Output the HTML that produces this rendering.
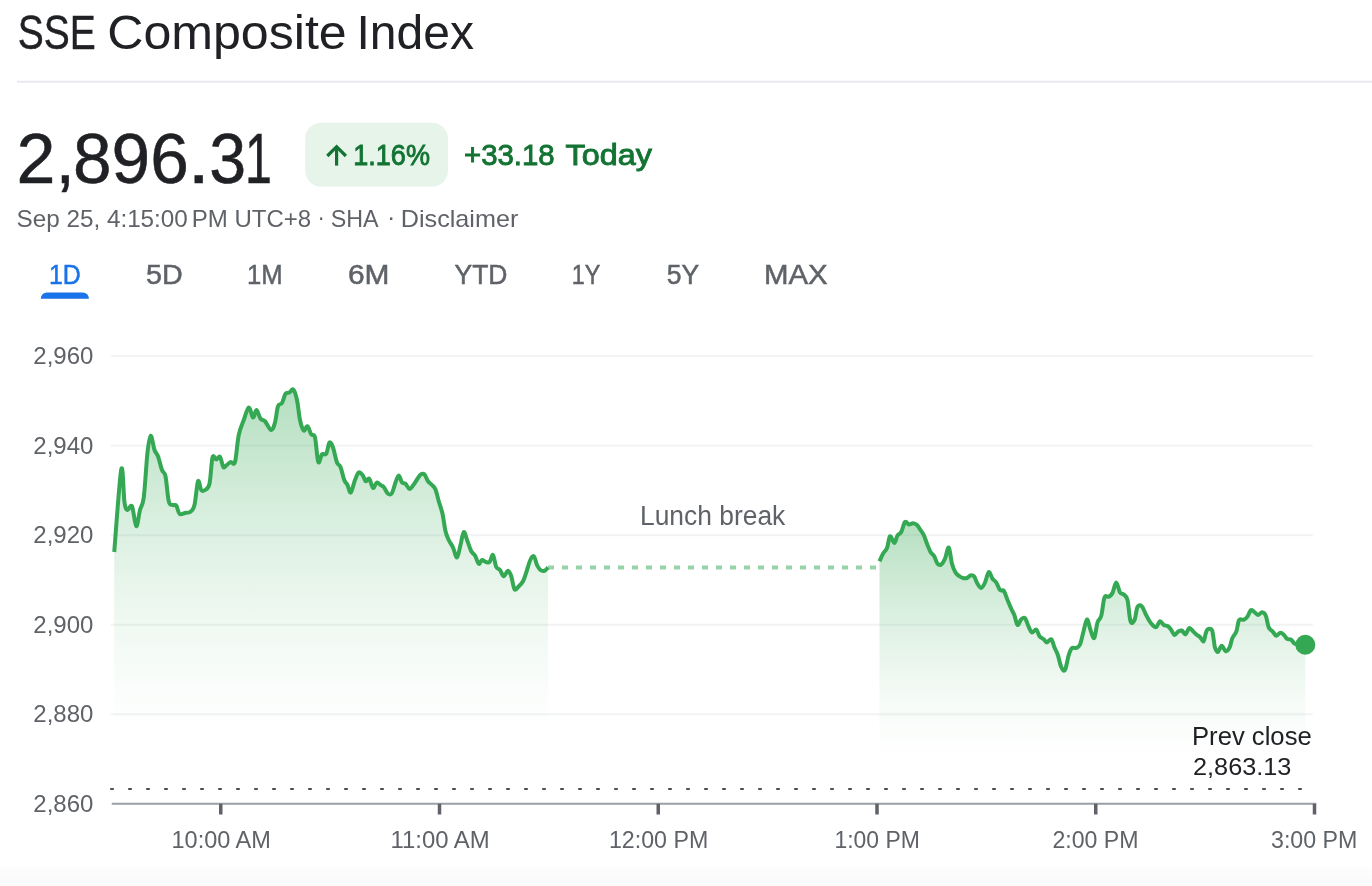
<!DOCTYPE html>
<html>
<head>
<meta charset="utf-8">
<title>SSE Composite Index</title>
<style>
  html, body { margin: 0; padding: 0; background: #fff; }
  body { width: 1372px; height: 886px; overflow: hidden; }
  svg { display: block; }
  text { font-family: "Liberation Sans", sans-serif; }
  .ax { font-size: 24px; fill: #5f6368; }
  .tab { font-size: 26px; fill: #5f6368; stroke: #5f6368; stroke-width: 0.5px; }
  .grn { font-size: 28px; fill: #137333; stroke: #137333; stroke-width: 0.6px; }
</style>
</head>
<body>
<svg width="1372" height="886" viewBox="0 0 1372 886">
  <defs>
    <linearGradient id="bot" x1="0" y1="0" x2="0" y2="1">
      <stop offset="0" stop-color="#fdfdfd"/>
      <stop offset="0.45" stop-color="#fcfcfc"/>
      <stop offset="1" stop-color="#fafafa"/>
    </linearGradient>
    <linearGradient id="fill1" gradientUnits="userSpaceOnUse" x1="0" y1="388.50" x2="0" y2="747.69"><stop offset="0.0000" stop-color="#34a853" stop-opacity="0.3700"/><stop offset="0.0714" stop-color="#34a853" stop-opacity="0.3311"/><stop offset="0.1429" stop-color="#34a853" stop-opacity="0.2936"/><stop offset="0.2143" stop-color="#34a853" stop-opacity="0.2577"/><stop offset="0.2857" stop-color="#34a853" stop-opacity="0.2234"/><stop offset="0.3571" stop-color="#34a853" stop-opacity="0.1907"/><stop offset="0.4286" stop-color="#34a853" stop-opacity="0.1598"/><stop offset="0.5000" stop-color="#34a853" stop-opacity="0.1308"/><stop offset="0.5714" stop-color="#34a853" stop-opacity="0.1038"/><stop offset="0.6429" stop-color="#34a853" stop-opacity="0.0790"/><stop offset="0.7143" stop-color="#34a853" stop-opacity="0.0565"/><stop offset="0.7857" stop-color="#34a853" stop-opacity="0.0367"/><stop offset="0.8571" stop-color="#34a853" stop-opacity="0.0200"/><stop offset="0.9286" stop-color="#34a853" stop-opacity="0.0071"/><stop offset="1.0000" stop-color="#34a853" stop-opacity="0.0000"/></linearGradient>
    <linearGradient id="fill2" gradientUnits="userSpaceOnUse" x1="0" y1="521.00" x2="0" y2="765.58"><stop offset="0.0000" stop-color="#34a853" stop-opacity="0.3700"/><stop offset="0.0714" stop-color="#34a853" stop-opacity="0.3311"/><stop offset="0.1429" stop-color="#34a853" stop-opacity="0.2936"/><stop offset="0.2143" stop-color="#34a853" stop-opacity="0.2577"/><stop offset="0.2857" stop-color="#34a853" stop-opacity="0.2234"/><stop offset="0.3571" stop-color="#34a853" stop-opacity="0.1907"/><stop offset="0.4286" stop-color="#34a853" stop-opacity="0.1598"/><stop offset="0.5000" stop-color="#34a853" stop-opacity="0.1308"/><stop offset="0.5714" stop-color="#34a853" stop-opacity="0.1038"/><stop offset="0.6429" stop-color="#34a853" stop-opacity="0.0790"/><stop offset="0.7143" stop-color="#34a853" stop-opacity="0.0565"/><stop offset="0.7857" stop-color="#34a853" stop-opacity="0.0367"/><stop offset="0.8571" stop-color="#34a853" stop-opacity="0.0200"/><stop offset="0.9286" stop-color="#34a853" stop-opacity="0.0071"/><stop offset="1.0000" stop-color="#34a853" stop-opacity="0.0000"/></linearGradient>
  </defs>

  <rect x="0" y="0" width="1372" height="886" fill="#ffffff"/>
  <rect x="0" y="867" width="1372" height="19" fill="url(#bot)"/>

  <!-- Title -->
  <rect x="17" y="80.75" width="1355" height="2" fill="#e8eaed"/>

  <!-- Price -->

  <!-- Badge -->
  <rect x="305.2" y="122.7" width="142.8" height="63.9" rx="16" ry="16" fill="#e6f4ea"/>
  <g id="arrow" fill="none" stroke="#137333" stroke-width="3.2" stroke-linecap="butt" stroke-linejoin="miter">
    <path d="M336.6 165.6 V147.5"/>
    <path d="M327.3 156 L336.6 146.7 L345.9 156"/>
  </g>

  <!-- Subtitle -->

  <!-- Tabs -->
  <path d="M40.8 298.8 V298.6 A6 6 0 0 1 46.8 292.6 H82.9 A6 6 0 0 1 88.9 298.6 V298.8 Z" fill="#1a73e8"/>

  <!-- Gridlines -->
  <g fill="#f1f3f4">
    <rect x="110.8" y="355.1" width="1202" height="2"/>
    <rect x="110.8" y="444.6" width="1202" height="2"/>
    <rect x="110.8" y="534.2" width="1202" height="2"/>
    <rect x="110.8" y="623.75" width="1202" height="2"/>
    <rect x="110.8" y="713.3" width="1202" height="2"/>
  </g>

  <!-- Y labels -->

  <!-- Area fills -->
  <path d="M114.25 552.00 C115.42 538.25 119.54 477.75 121.25 469.50 C122.96 461.25 123.46 495.75 124.50 502.50 C125.54 509.25 126.25 509.38 127.50 510.00 C128.75 510.62 130.54 503.54 132.00 506.25 C133.46 508.96 134.92 525.62 136.25 526.25 C137.58 526.88 138.75 514.79 140.00 510.00 C141.25 505.21 142.50 507.08 143.75 497.50 C145.00 487.92 146.33 462.79 147.50 452.50 C148.67 442.21 149.58 436.17 150.75 435.75 C151.92 435.33 153.29 446.58 154.50 450.00 C155.71 453.42 156.75 452.92 158.00 456.25 C159.25 459.58 160.75 466.67 162.00 470.00 C163.25 473.33 164.38 471.04 165.50 476.25 C166.62 481.46 167.58 496.46 168.75 501.25 C169.92 506.04 171.25 504.29 172.50 505.00 C173.75 505.71 175.08 504.04 176.25 505.50 C177.42 506.96 178.04 512.50 179.50 513.75 C180.96 515.00 183.17 513.33 185.00 513.00 C186.83 512.67 188.92 513.08 190.50 511.75 C192.08 510.42 193.25 510.08 194.50 505.00 C195.75 499.92 196.88 483.75 198.00 481.25 C199.12 478.75 200.08 488.54 201.25 490.00 C202.42 491.46 203.62 491.04 205.00 490.00 C206.38 488.96 208.25 489.17 209.50 483.75 C210.75 478.33 211.38 461.54 212.50 457.50 C213.62 453.46 215.00 459.62 216.25 459.50 C217.50 459.38 218.83 455.50 220.00 456.75 C221.17 458.00 222.21 465.54 223.25 467.00 C224.29 468.46 225.00 466.33 226.25 465.50 C227.50 464.67 229.29 462.58 230.75 462.00 C232.21 461.42 233.67 466.50 235.00 462.00 C236.33 457.50 237.29 442.00 238.75 435.00 C240.21 428.00 242.08 424.58 243.75 420.00 C245.42 415.42 247.21 407.92 248.75 407.50 C250.29 407.08 251.71 417.08 253.00 417.50 C254.29 417.92 255.25 409.79 256.50 410.00 C257.75 410.21 259.08 416.88 260.50 418.75 C261.92 420.62 263.21 419.38 265.00 421.25 C266.79 423.12 269.58 429.79 271.25 430.00 C272.92 430.21 273.88 426.46 275.00 422.50 C276.12 418.54 276.83 409.50 278.00 406.25 C279.17 403.00 280.75 405.08 282.00 403.00 C283.25 400.92 284.25 395.50 285.50 393.75 C286.75 392.00 288.21 393.21 289.50 392.50 C290.79 391.79 292.00 388.25 293.25 389.50 C294.50 390.75 295.88 394.92 297.00 400.00 C298.12 405.08 298.88 414.92 300.00 420.00 C301.12 425.08 302.50 429.46 303.75 430.50 C305.00 431.54 306.25 425.58 307.50 426.25 C308.75 426.92 310.00 432.62 311.25 434.50 C312.50 436.38 313.83 432.92 315.00 437.50 C316.17 442.08 317.08 459.21 318.25 462.00 C319.42 464.79 320.67 455.62 322.00 454.25 C323.33 452.88 325.00 455.71 326.25 453.75 C327.50 451.79 328.38 443.54 329.50 442.50 C330.62 441.46 331.75 444.17 333.00 447.50 C334.25 450.83 335.75 459.25 337.00 462.50 C338.25 465.75 339.29 464.08 340.50 467.00 C341.71 469.92 343.08 477.00 344.25 480.00 C345.42 483.00 346.42 482.92 347.50 485.00 C348.58 487.08 349.50 493.33 350.75 492.50 C352.00 491.67 353.67 483.33 355.00 480.00 C356.33 476.67 357.50 473.33 358.75 472.50 C360.00 471.67 361.33 473.54 362.50 475.00 C363.67 476.46 364.62 480.62 365.75 481.25 C366.88 481.88 368.04 477.62 369.25 478.75 C370.46 479.88 371.75 487.38 373.00 488.00 C374.25 488.62 375.50 483.00 376.75 482.50 C378.00 482.00 379.33 484.25 380.50 485.00 C381.67 485.75 382.50 485.54 383.75 487.00 C385.00 488.46 386.62 492.75 388.00 493.75 C389.38 494.75 390.75 494.88 392.00 493.00 C393.25 491.12 394.38 485.42 395.50 482.50 C396.62 479.58 397.67 475.50 398.75 475.50 C399.83 475.50 400.88 481.12 402.00 482.50 C403.12 483.88 404.25 482.67 405.50 483.75 C406.75 484.83 408.12 488.88 409.50 489.00 C410.88 489.12 412.42 486.21 413.75 484.50 C415.08 482.79 416.33 480.42 417.50 478.75 C418.67 477.08 419.58 475.21 420.75 474.50 C421.92 473.79 423.29 473.38 424.50 474.50 C425.71 475.62 426.75 479.50 428.00 481.25 C429.25 483.00 430.75 483.62 432.00 485.00 C433.25 486.38 434.38 486.79 435.50 489.50 C436.62 492.21 437.58 497.21 438.75 501.25 C439.92 505.29 441.38 508.75 442.50 513.75 C443.62 518.75 444.46 526.88 445.50 531.25 C446.54 535.62 447.50 537.29 448.75 540.00 C450.00 542.71 451.62 544.58 453.00 547.50 C454.38 550.42 455.75 557.92 457.00 557.50 C458.25 557.08 459.38 549.25 460.50 545.00 C461.62 540.75 462.58 532.62 463.75 532.00 C464.92 531.38 466.25 538.04 467.50 541.25 C468.75 544.46 470.00 548.88 471.25 551.25 C472.50 553.62 473.75 553.42 475.00 555.50 C476.25 557.58 477.58 563.00 478.75 563.75 C479.92 564.50 480.88 560.33 482.00 560.00 C483.12 559.67 484.25 561.42 485.50 561.75 C486.75 562.08 488.25 563.12 489.50 562.00 C490.75 560.88 491.88 554.17 493.00 555.00 C494.12 555.83 495.08 564.50 496.25 567.00 C497.42 569.50 498.75 568.46 500.00 570.00 C501.25 571.54 502.42 576.12 503.75 576.25 C505.08 576.38 506.75 570.75 508.00 570.75 C509.25 570.75 510.17 573.17 511.25 576.25 C512.33 579.33 513.25 587.58 514.50 589.25 C515.75 590.92 517.33 587.58 518.75 586.25 C520.17 584.92 521.75 583.54 523.00 581.25 C524.25 578.96 525.03 576.04 526.25 572.50 C527.47 568.96 529.02 562.71 530.30 560.00 C531.57 557.29 532.78 555.42 533.90 556.25 C535.02 557.08 535.92 562.71 537.00 565.00 C538.08 567.29 539.15 569.04 540.40 570.00 C541.65 570.96 543.23 571.17 544.50 570.75 C545.77 570.33 547.42 568.04 548.00 567.50 L548.00 803.75 L114.25 803.75 Z" fill="url(#fill1)"/>
  <path d="M879.50 561.25 C880.08 560.00 881.75 555.96 883.00 553.75 C884.25 551.54 885.83 550.92 887.00 548.00 C888.17 545.08 888.79 537.08 890.00 536.25 C891.21 535.42 893.00 543.12 894.25 543.00 C895.50 542.88 896.33 537.33 897.50 535.50 C898.67 533.67 900.00 534.25 901.25 532.00 C902.50 529.75 903.75 523.25 905.00 522.00 C906.25 520.75 907.42 524.29 908.75 524.50 C910.08 524.71 911.62 523.17 913.00 523.25 C914.38 523.33 915.75 523.88 917.00 525.00 C918.25 526.12 919.38 528.33 920.50 530.00 C921.62 531.67 922.67 532.71 923.75 535.00 C924.83 537.29 925.88 540.92 927.00 543.75 C928.12 546.58 929.29 549.92 930.50 552.00 C931.71 554.08 933.08 554.29 934.25 556.25 C935.42 558.21 936.33 562.38 937.50 563.75 C938.67 565.12 940.00 565.33 941.25 564.50 C942.50 563.67 943.75 561.58 945.00 558.75 C946.25 555.92 947.58 546.67 948.75 547.50 C949.92 548.33 950.88 559.58 952.00 563.75 C953.12 567.92 954.25 570.42 955.50 572.50 C956.75 574.58 958.25 575.33 959.50 576.25 C960.75 577.17 961.75 577.71 963.00 578.00 C964.25 578.29 965.75 578.42 967.00 578.00 C968.25 577.58 969.33 575.79 970.50 575.50 C971.67 575.21 972.83 574.88 974.00 576.25 C975.17 577.62 976.29 581.79 977.50 583.75 C978.71 585.71 980.00 588.21 981.25 588.00 C982.50 587.79 983.75 585.17 985.00 582.50 C986.25 579.83 987.50 572.62 988.75 572.00 C990.00 571.38 991.25 577.00 992.50 578.75 C993.75 580.50 995.00 580.62 996.25 582.50 C997.50 584.38 998.75 588.62 1000.00 590.00 C1001.25 591.38 1002.50 589.08 1003.75 590.75 C1005.00 592.42 1006.25 597.00 1007.50 600.00 C1008.75 603.00 1010.08 606.17 1011.25 608.75 C1012.42 611.33 1013.46 612.79 1014.50 615.50 C1015.54 618.21 1016.38 624.38 1017.50 625.00 C1018.62 625.62 1020.00 620.38 1021.25 619.25 C1022.50 618.12 1023.75 616.96 1025.00 618.25 C1026.25 619.54 1027.58 624.62 1028.75 627.00 C1029.92 629.38 1030.75 632.08 1032.00 632.50 C1033.25 632.92 1035.00 628.88 1036.25 629.50 C1037.50 630.12 1038.25 634.62 1039.50 636.25 C1040.75 637.88 1042.50 638.21 1043.75 639.25 C1045.00 640.29 1045.75 642.50 1047.00 642.50 C1048.25 642.50 1050.00 638.42 1051.25 639.25 C1052.50 640.08 1053.38 644.79 1054.50 647.50 C1055.62 650.21 1056.88 652.25 1058.00 655.50 C1059.12 658.75 1060.08 664.58 1061.25 667.00 C1062.42 669.42 1063.75 672.00 1065.00 670.00 C1066.25 668.00 1067.58 658.67 1068.75 655.00 C1069.92 651.33 1070.75 649.17 1072.00 648.00 C1073.25 646.83 1074.92 648.58 1076.25 648.00 C1077.58 647.42 1078.83 647.08 1080.00 644.50 C1081.17 641.92 1082.08 636.67 1083.25 632.50 C1084.42 628.33 1085.79 619.92 1087.00 619.50 C1088.21 619.08 1089.29 626.92 1090.50 630.00 C1091.71 633.08 1093.08 639.25 1094.25 638.00 C1095.42 636.75 1096.33 626.21 1097.50 622.50 C1098.67 618.79 1100.08 619.92 1101.25 615.75 C1102.42 611.58 1103.25 600.67 1104.50 597.50 C1105.75 594.33 1107.42 597.50 1108.75 596.75 C1110.08 596.00 1111.25 595.38 1112.50 593.00 C1113.75 590.62 1115.00 582.58 1116.25 582.50 C1117.50 582.42 1118.75 590.50 1120.00 592.50 C1121.25 594.50 1122.50 593.25 1123.75 594.50 C1125.00 595.75 1126.38 595.54 1127.50 600.00 C1128.62 604.46 1129.33 617.92 1130.50 621.25 C1131.67 624.58 1133.33 622.38 1134.50 620.00 C1135.67 617.62 1136.29 609.29 1137.50 607.00 C1138.71 604.71 1140.42 605.12 1141.75 606.25 C1143.08 607.38 1144.25 611.33 1145.50 613.75 C1146.75 616.17 1148.00 618.79 1149.25 620.75 C1150.50 622.71 1151.83 624.46 1153.00 625.50 C1154.17 626.54 1155.08 627.71 1156.25 627.00 C1157.42 626.29 1158.75 621.58 1160.00 621.25 C1161.25 620.92 1162.42 624.17 1163.75 625.00 C1165.08 625.83 1166.75 625.42 1168.00 626.25 C1169.25 627.08 1170.17 628.54 1171.25 630.00 C1172.33 631.46 1173.38 634.71 1174.50 635.00 C1175.62 635.29 1176.79 632.50 1178.00 631.75 C1179.21 631.00 1180.50 630.08 1181.75 630.50 C1183.00 630.92 1184.25 634.67 1185.50 634.25 C1186.75 633.83 1188.00 628.50 1189.25 628.00 C1190.50 627.50 1191.71 630.08 1193.00 631.25 C1194.29 632.42 1195.83 634.04 1197.00 635.00 C1198.17 635.96 1198.92 635.93 1200.00 637.00 C1201.08 638.07 1202.57 641.92 1203.50 641.40 C1204.43 640.88 1204.93 635.88 1205.60 633.90 C1206.27 631.92 1206.45 630.17 1207.50 629.50 C1208.55 628.83 1210.85 628.12 1211.90 629.90 C1212.95 631.68 1213.28 637.23 1213.80 640.20 C1214.32 643.17 1214.33 645.72 1215.00 647.70 C1215.67 649.68 1216.68 652.42 1217.80 652.10 C1218.92 651.78 1220.38 645.95 1221.70 645.80 C1223.02 645.65 1224.40 650.88 1225.70 651.20 C1227.00 651.52 1228.40 649.85 1229.50 647.70 C1230.60 645.55 1231.15 641.02 1232.30 638.30 C1233.45 635.58 1235.27 634.43 1236.40 631.40 C1237.53 628.37 1237.85 622.05 1239.10 620.10 C1240.35 618.15 1242.48 620.32 1243.90 619.70 C1245.32 619.08 1246.45 618.00 1247.60 616.40 C1248.75 614.80 1249.75 610.90 1250.80 610.10 C1251.85 609.30 1252.72 610.80 1253.90 611.60 C1255.08 612.40 1256.53 614.78 1257.90 614.90 C1259.27 615.02 1260.78 612.17 1262.10 612.30 C1263.42 612.43 1264.70 613.18 1265.80 615.70 C1266.90 618.22 1267.55 624.75 1268.70 627.40 C1269.85 630.05 1271.45 630.20 1272.70 631.60 C1273.95 633.00 1274.95 635.62 1276.20 635.80 C1277.45 635.98 1278.90 632.85 1280.20 632.70 C1281.50 632.55 1282.85 633.87 1284.00 634.90 C1285.15 635.93 1285.95 638.13 1287.10 638.90 C1288.25 639.67 1289.70 638.77 1290.90 639.50 C1292.10 640.23 1293.15 642.45 1294.30 643.30 C1295.45 644.15 1295.97 644.35 1297.80 644.60 C1299.63 644.85 1304.05 644.77 1305.30 644.80 L1305.30 803.75 L879.50 803.75 Z" fill="url(#fill2)"/>

  <!-- Lunch break dotted connector -->
  <line x1="548" y1="567.5" x2="879" y2="567.5" stroke="#34a853" stroke-opacity="0.5" stroke-width="4" stroke-dasharray="6 8"/>

  <!-- Price line -->
  <path d="M114.25 552.00 C115.42 538.25 119.54 477.75 121.25 469.50 C122.96 461.25 123.46 495.75 124.50 502.50 C125.54 509.25 126.25 509.38 127.50 510.00 C128.75 510.62 130.54 503.54 132.00 506.25 C133.46 508.96 134.92 525.62 136.25 526.25 C137.58 526.88 138.75 514.79 140.00 510.00 C141.25 505.21 142.50 507.08 143.75 497.50 C145.00 487.92 146.33 462.79 147.50 452.50 C148.67 442.21 149.58 436.17 150.75 435.75 C151.92 435.33 153.29 446.58 154.50 450.00 C155.71 453.42 156.75 452.92 158.00 456.25 C159.25 459.58 160.75 466.67 162.00 470.00 C163.25 473.33 164.38 471.04 165.50 476.25 C166.62 481.46 167.58 496.46 168.75 501.25 C169.92 506.04 171.25 504.29 172.50 505.00 C173.75 505.71 175.08 504.04 176.25 505.50 C177.42 506.96 178.04 512.50 179.50 513.75 C180.96 515.00 183.17 513.33 185.00 513.00 C186.83 512.67 188.92 513.08 190.50 511.75 C192.08 510.42 193.25 510.08 194.50 505.00 C195.75 499.92 196.88 483.75 198.00 481.25 C199.12 478.75 200.08 488.54 201.25 490.00 C202.42 491.46 203.62 491.04 205.00 490.00 C206.38 488.96 208.25 489.17 209.50 483.75 C210.75 478.33 211.38 461.54 212.50 457.50 C213.62 453.46 215.00 459.62 216.25 459.50 C217.50 459.38 218.83 455.50 220.00 456.75 C221.17 458.00 222.21 465.54 223.25 467.00 C224.29 468.46 225.00 466.33 226.25 465.50 C227.50 464.67 229.29 462.58 230.75 462.00 C232.21 461.42 233.67 466.50 235.00 462.00 C236.33 457.50 237.29 442.00 238.75 435.00 C240.21 428.00 242.08 424.58 243.75 420.00 C245.42 415.42 247.21 407.92 248.75 407.50 C250.29 407.08 251.71 417.08 253.00 417.50 C254.29 417.92 255.25 409.79 256.50 410.00 C257.75 410.21 259.08 416.88 260.50 418.75 C261.92 420.62 263.21 419.38 265.00 421.25 C266.79 423.12 269.58 429.79 271.25 430.00 C272.92 430.21 273.88 426.46 275.00 422.50 C276.12 418.54 276.83 409.50 278.00 406.25 C279.17 403.00 280.75 405.08 282.00 403.00 C283.25 400.92 284.25 395.50 285.50 393.75 C286.75 392.00 288.21 393.21 289.50 392.50 C290.79 391.79 292.00 388.25 293.25 389.50 C294.50 390.75 295.88 394.92 297.00 400.00 C298.12 405.08 298.88 414.92 300.00 420.00 C301.12 425.08 302.50 429.46 303.75 430.50 C305.00 431.54 306.25 425.58 307.50 426.25 C308.75 426.92 310.00 432.62 311.25 434.50 C312.50 436.38 313.83 432.92 315.00 437.50 C316.17 442.08 317.08 459.21 318.25 462.00 C319.42 464.79 320.67 455.62 322.00 454.25 C323.33 452.88 325.00 455.71 326.25 453.75 C327.50 451.79 328.38 443.54 329.50 442.50 C330.62 441.46 331.75 444.17 333.00 447.50 C334.25 450.83 335.75 459.25 337.00 462.50 C338.25 465.75 339.29 464.08 340.50 467.00 C341.71 469.92 343.08 477.00 344.25 480.00 C345.42 483.00 346.42 482.92 347.50 485.00 C348.58 487.08 349.50 493.33 350.75 492.50 C352.00 491.67 353.67 483.33 355.00 480.00 C356.33 476.67 357.50 473.33 358.75 472.50 C360.00 471.67 361.33 473.54 362.50 475.00 C363.67 476.46 364.62 480.62 365.75 481.25 C366.88 481.88 368.04 477.62 369.25 478.75 C370.46 479.88 371.75 487.38 373.00 488.00 C374.25 488.62 375.50 483.00 376.75 482.50 C378.00 482.00 379.33 484.25 380.50 485.00 C381.67 485.75 382.50 485.54 383.75 487.00 C385.00 488.46 386.62 492.75 388.00 493.75 C389.38 494.75 390.75 494.88 392.00 493.00 C393.25 491.12 394.38 485.42 395.50 482.50 C396.62 479.58 397.67 475.50 398.75 475.50 C399.83 475.50 400.88 481.12 402.00 482.50 C403.12 483.88 404.25 482.67 405.50 483.75 C406.75 484.83 408.12 488.88 409.50 489.00 C410.88 489.12 412.42 486.21 413.75 484.50 C415.08 482.79 416.33 480.42 417.50 478.75 C418.67 477.08 419.58 475.21 420.75 474.50 C421.92 473.79 423.29 473.38 424.50 474.50 C425.71 475.62 426.75 479.50 428.00 481.25 C429.25 483.00 430.75 483.62 432.00 485.00 C433.25 486.38 434.38 486.79 435.50 489.50 C436.62 492.21 437.58 497.21 438.75 501.25 C439.92 505.29 441.38 508.75 442.50 513.75 C443.62 518.75 444.46 526.88 445.50 531.25 C446.54 535.62 447.50 537.29 448.75 540.00 C450.00 542.71 451.62 544.58 453.00 547.50 C454.38 550.42 455.75 557.92 457.00 557.50 C458.25 557.08 459.38 549.25 460.50 545.00 C461.62 540.75 462.58 532.62 463.75 532.00 C464.92 531.38 466.25 538.04 467.50 541.25 C468.75 544.46 470.00 548.88 471.25 551.25 C472.50 553.62 473.75 553.42 475.00 555.50 C476.25 557.58 477.58 563.00 478.75 563.75 C479.92 564.50 480.88 560.33 482.00 560.00 C483.12 559.67 484.25 561.42 485.50 561.75 C486.75 562.08 488.25 563.12 489.50 562.00 C490.75 560.88 491.88 554.17 493.00 555.00 C494.12 555.83 495.08 564.50 496.25 567.00 C497.42 569.50 498.75 568.46 500.00 570.00 C501.25 571.54 502.42 576.12 503.75 576.25 C505.08 576.38 506.75 570.75 508.00 570.75 C509.25 570.75 510.17 573.17 511.25 576.25 C512.33 579.33 513.25 587.58 514.50 589.25 C515.75 590.92 517.33 587.58 518.75 586.25 C520.17 584.92 521.75 583.54 523.00 581.25 C524.25 578.96 525.03 576.04 526.25 572.50 C527.47 568.96 529.02 562.71 530.30 560.00 C531.57 557.29 532.78 555.42 533.90 556.25 C535.02 557.08 535.92 562.71 537.00 565.00 C538.08 567.29 539.15 569.04 540.40 570.00 C541.65 570.96 543.23 571.17 544.50 570.75 C545.77 570.33 547.42 568.04 548.00 567.50" fill="none" stroke="#34a853" stroke-width="4" stroke-linejoin="round" stroke-linecap="butt"/>
  <path d="M879.50 561.25 C880.08 560.00 881.75 555.96 883.00 553.75 C884.25 551.54 885.83 550.92 887.00 548.00 C888.17 545.08 888.79 537.08 890.00 536.25 C891.21 535.42 893.00 543.12 894.25 543.00 C895.50 542.88 896.33 537.33 897.50 535.50 C898.67 533.67 900.00 534.25 901.25 532.00 C902.50 529.75 903.75 523.25 905.00 522.00 C906.25 520.75 907.42 524.29 908.75 524.50 C910.08 524.71 911.62 523.17 913.00 523.25 C914.38 523.33 915.75 523.88 917.00 525.00 C918.25 526.12 919.38 528.33 920.50 530.00 C921.62 531.67 922.67 532.71 923.75 535.00 C924.83 537.29 925.88 540.92 927.00 543.75 C928.12 546.58 929.29 549.92 930.50 552.00 C931.71 554.08 933.08 554.29 934.25 556.25 C935.42 558.21 936.33 562.38 937.50 563.75 C938.67 565.12 940.00 565.33 941.25 564.50 C942.50 563.67 943.75 561.58 945.00 558.75 C946.25 555.92 947.58 546.67 948.75 547.50 C949.92 548.33 950.88 559.58 952.00 563.75 C953.12 567.92 954.25 570.42 955.50 572.50 C956.75 574.58 958.25 575.33 959.50 576.25 C960.75 577.17 961.75 577.71 963.00 578.00 C964.25 578.29 965.75 578.42 967.00 578.00 C968.25 577.58 969.33 575.79 970.50 575.50 C971.67 575.21 972.83 574.88 974.00 576.25 C975.17 577.62 976.29 581.79 977.50 583.75 C978.71 585.71 980.00 588.21 981.25 588.00 C982.50 587.79 983.75 585.17 985.00 582.50 C986.25 579.83 987.50 572.62 988.75 572.00 C990.00 571.38 991.25 577.00 992.50 578.75 C993.75 580.50 995.00 580.62 996.25 582.50 C997.50 584.38 998.75 588.62 1000.00 590.00 C1001.25 591.38 1002.50 589.08 1003.75 590.75 C1005.00 592.42 1006.25 597.00 1007.50 600.00 C1008.75 603.00 1010.08 606.17 1011.25 608.75 C1012.42 611.33 1013.46 612.79 1014.50 615.50 C1015.54 618.21 1016.38 624.38 1017.50 625.00 C1018.62 625.62 1020.00 620.38 1021.25 619.25 C1022.50 618.12 1023.75 616.96 1025.00 618.25 C1026.25 619.54 1027.58 624.62 1028.75 627.00 C1029.92 629.38 1030.75 632.08 1032.00 632.50 C1033.25 632.92 1035.00 628.88 1036.25 629.50 C1037.50 630.12 1038.25 634.62 1039.50 636.25 C1040.75 637.88 1042.50 638.21 1043.75 639.25 C1045.00 640.29 1045.75 642.50 1047.00 642.50 C1048.25 642.50 1050.00 638.42 1051.25 639.25 C1052.50 640.08 1053.38 644.79 1054.50 647.50 C1055.62 650.21 1056.88 652.25 1058.00 655.50 C1059.12 658.75 1060.08 664.58 1061.25 667.00 C1062.42 669.42 1063.75 672.00 1065.00 670.00 C1066.25 668.00 1067.58 658.67 1068.75 655.00 C1069.92 651.33 1070.75 649.17 1072.00 648.00 C1073.25 646.83 1074.92 648.58 1076.25 648.00 C1077.58 647.42 1078.83 647.08 1080.00 644.50 C1081.17 641.92 1082.08 636.67 1083.25 632.50 C1084.42 628.33 1085.79 619.92 1087.00 619.50 C1088.21 619.08 1089.29 626.92 1090.50 630.00 C1091.71 633.08 1093.08 639.25 1094.25 638.00 C1095.42 636.75 1096.33 626.21 1097.50 622.50 C1098.67 618.79 1100.08 619.92 1101.25 615.75 C1102.42 611.58 1103.25 600.67 1104.50 597.50 C1105.75 594.33 1107.42 597.50 1108.75 596.75 C1110.08 596.00 1111.25 595.38 1112.50 593.00 C1113.75 590.62 1115.00 582.58 1116.25 582.50 C1117.50 582.42 1118.75 590.50 1120.00 592.50 C1121.25 594.50 1122.50 593.25 1123.75 594.50 C1125.00 595.75 1126.38 595.54 1127.50 600.00 C1128.62 604.46 1129.33 617.92 1130.50 621.25 C1131.67 624.58 1133.33 622.38 1134.50 620.00 C1135.67 617.62 1136.29 609.29 1137.50 607.00 C1138.71 604.71 1140.42 605.12 1141.75 606.25 C1143.08 607.38 1144.25 611.33 1145.50 613.75 C1146.75 616.17 1148.00 618.79 1149.25 620.75 C1150.50 622.71 1151.83 624.46 1153.00 625.50 C1154.17 626.54 1155.08 627.71 1156.25 627.00 C1157.42 626.29 1158.75 621.58 1160.00 621.25 C1161.25 620.92 1162.42 624.17 1163.75 625.00 C1165.08 625.83 1166.75 625.42 1168.00 626.25 C1169.25 627.08 1170.17 628.54 1171.25 630.00 C1172.33 631.46 1173.38 634.71 1174.50 635.00 C1175.62 635.29 1176.79 632.50 1178.00 631.75 C1179.21 631.00 1180.50 630.08 1181.75 630.50 C1183.00 630.92 1184.25 634.67 1185.50 634.25 C1186.75 633.83 1188.00 628.50 1189.25 628.00 C1190.50 627.50 1191.71 630.08 1193.00 631.25 C1194.29 632.42 1195.83 634.04 1197.00 635.00 C1198.17 635.96 1198.92 635.93 1200.00 637.00 C1201.08 638.07 1202.57 641.92 1203.50 641.40 C1204.43 640.88 1204.93 635.88 1205.60 633.90 C1206.27 631.92 1206.45 630.17 1207.50 629.50 C1208.55 628.83 1210.85 628.12 1211.90 629.90 C1212.95 631.68 1213.28 637.23 1213.80 640.20 C1214.32 643.17 1214.33 645.72 1215.00 647.70 C1215.67 649.68 1216.68 652.42 1217.80 652.10 C1218.92 651.78 1220.38 645.95 1221.70 645.80 C1223.02 645.65 1224.40 650.88 1225.70 651.20 C1227.00 651.52 1228.40 649.85 1229.50 647.70 C1230.60 645.55 1231.15 641.02 1232.30 638.30 C1233.45 635.58 1235.27 634.43 1236.40 631.40 C1237.53 628.37 1237.85 622.05 1239.10 620.10 C1240.35 618.15 1242.48 620.32 1243.90 619.70 C1245.32 619.08 1246.45 618.00 1247.60 616.40 C1248.75 614.80 1249.75 610.90 1250.80 610.10 C1251.85 609.30 1252.72 610.80 1253.90 611.60 C1255.08 612.40 1256.53 614.78 1257.90 614.90 C1259.27 615.02 1260.78 612.17 1262.10 612.30 C1263.42 612.43 1264.70 613.18 1265.80 615.70 C1266.90 618.22 1267.55 624.75 1268.70 627.40 C1269.85 630.05 1271.45 630.20 1272.70 631.60 C1273.95 633.00 1274.95 635.62 1276.20 635.80 C1277.45 635.98 1278.90 632.85 1280.20 632.70 C1281.50 632.55 1282.85 633.87 1284.00 634.90 C1285.15 635.93 1285.95 638.13 1287.10 638.90 C1288.25 639.67 1289.70 638.77 1290.90 639.50 C1292.10 640.23 1293.15 642.45 1294.30 643.30 C1295.45 644.15 1295.97 644.35 1297.80 644.60 C1299.63 644.85 1304.05 644.77 1305.30 644.80" fill="none" stroke="#34a853" stroke-width="4" stroke-linejoin="round" stroke-linecap="butt"/>
  <circle cx="1305.3" cy="644.8" r="10" fill="#34a853"/>

  <!-- Prev close dotted -->
  <line x1="110.2" y1="789" x2="1303" y2="789" stroke="#4a4e52" stroke-width="2" stroke-dasharray="3.6 14.4"/>

  <!-- X axis -->
  <rect x="111.75" y="802.75" width="1204.5" height="2" fill="#9aa0a6"/>
  <g fill="#5f6368">
    <rect x="219" y="803.75" width="3.5" height="10.75"/>
    <rect x="437.75" y="803.75" width="3.5" height="10.75"/>
    <rect x="656.5" y="803.75" width="3.5" height="10.75"/>
    <rect x="875.25" y="803.75" width="3.5" height="10.75"/>
    <rect x="1094" y="803.75" width="3.5" height="10.75"/>
    <rect x="1312.75" y="803.75" width="3.5" height="10.75"/>
  </g>

  <!-- Text -->
  <g id="txt" style="filter:opacity(0.999)">
  <text id="ttl1" x="17.75" y="48.75" font-size="48" style="fill:#202124;stroke:#202124;stroke-width:0.4px" textLength="78.05" lengthAdjust="spacingAndGlyphs">SSE</text>
  <text id="ttl2" x="107.25" y="48.75" font-size="48" style="fill:#202124" textLength="239.44" lengthAdjust="spacingAndGlyphs">Composite</text>
  <text id="ttl3" x="356.50" y="48.75" font-size="48" style="fill:#202124" textLength="117.42" lengthAdjust="spacingAndGlyphs">Index</text>
  <text id="pr1" x="16.50" y="182.70" font-size="70" style="fill:#202124;stroke:#202124;stroke-width:0.5px" textLength="58.39" lengthAdjust="spacingAndGlyphs">2,</text>
  <text id="pr2" x="73.00" y="182.70" font-size="70" style="fill:#202124;stroke:#202124;stroke-width:0.5px" textLength="115.80" lengthAdjust="spacingAndGlyphs">896</text>
  <text id="pr3" x="187.50" y="182.70" font-size="70" style="fill:#202124;stroke:#202124;stroke-width:0.5px" textLength="22.45" lengthAdjust="spacingAndGlyphs">.</text>
  <text id="pr4" x="209.25" y="182.70" font-size="70" style="fill:#202124;stroke:#202124;stroke-width:0.5px" textLength="36.94" lengthAdjust="spacingAndGlyphs">3</text>
  <text id="pr5" x="245.00" y="182.70" font-size="70" style="fill:#202124;stroke:#202124;stroke-width:0.5px" textLength="26.94" lengthAdjust="spacingAndGlyphs">1</text>
  <text id="pct" x="353.30" y="165.30" font-size="29.5" style="fill:#137333;stroke:#137333;stroke-width:0.9px" textLength="76.63" lengthAdjust="spacingAndGlyphs">1.16%</text>
  <text id="today1" x="464.00" y="165.30" font-size="29.5" style="fill:#137333;stroke:#137333;stroke-width:0.9px" textLength="90.72" lengthAdjust="spacingAndGlyphs">+33.18</text>
  <text id="today2" x="565.50" y="165.30" font-size="29.5" style="fill:#137333;stroke:#137333;stroke-width:0.9px" textLength="86.39" lengthAdjust="spacingAndGlyphs">Today</text>
  <text id="sub1" x="16.50" y="226.70" font-size="24" style="fill:#5f6368" textLength="171.36" lengthAdjust="spacingAndGlyphs">Sep 25, 4:15:00</text>
  <text id="sub2" x="191.75" y="226.70" font-size="24" style="fill:#5f6368" textLength="119.42" lengthAdjust="spacingAndGlyphs">PM UTC+8</text>
  <text id="sub3" x="317.50" y="224.80" font-size="24" style="fill:#5f6368" textLength="7.33" lengthAdjust="spacingAndGlyphs">·</text>
  <text id="sub4" x="330.70" y="226.70" font-size="24" style="fill:#5f6368" textLength="47.85" lengthAdjust="spacingAndGlyphs">SHA</text>
  <text id="sub5" x="386.90" y="224.80" font-size="24" style="fill:#5f6368" textLength="8.33" lengthAdjust="spacingAndGlyphs">·</text>
  <text id="sub6" x="400.80" y="226.70" font-size="24" style="fill:#5f6368" textLength="117.49" lengthAdjust="spacingAndGlyphs">Disclaimer</text>
  <text id="t1" x="49.00" y="283.80" font-size="27" style="fill:#1a73e8;stroke:#1a73e8;stroke-width:0.5px" textLength="31.85" lengthAdjust="spacingAndGlyphs">1D</text>
  <text id="t2" x="146.00" y="283.80" font-size="27" style="fill:#5f6368;stroke:#5f6368;stroke-width:0.5px" textLength="36.65" lengthAdjust="spacingAndGlyphs">5D</text>
  <text id="t3" x="247.00" y="283.80" font-size="27" style="fill:#5f6368;stroke:#5f6368;stroke-width:0.5px" textLength="35.72" lengthAdjust="spacingAndGlyphs">1M</text>
  <text id="t4" x="348.00" y="283.80" font-size="27" style="fill:#5f6368;stroke:#5f6368;stroke-width:0.5px" textLength="41.53" lengthAdjust="spacingAndGlyphs">6M</text>
  <text id="t5" x="454.50" y="283.80" font-size="27" style="fill:#5f6368;stroke:#5f6368;stroke-width:0.5px" textLength="53.00" lengthAdjust="spacingAndGlyphs">YTD</text>
  <text id="t6" x="571.70" y="283.80" font-size="27" style="fill:#5f6368;stroke:#5f6368;stroke-width:0.5px" textLength="28.61" lengthAdjust="spacingAndGlyphs">1Y</text>
  <text id="t7" x="666.80" y="283.80" font-size="27" style="fill:#5f6368;stroke:#5f6368;stroke-width:0.5px" textLength="32.41" lengthAdjust="spacingAndGlyphs">5Y</text>
  <text id="t8" x="764.00" y="283.80" font-size="27" style="fill:#5f6368;stroke:#5f6368;stroke-width:0.5px" textLength="63.74" lengthAdjust="spacingAndGlyphs">MAX</text>
  <text id="y1" x="33.30" y="364.00" font-size="24" style="fill:#5f6368" textLength="60.06" lengthAdjust="spacingAndGlyphs">2,960</text>
  <text id="y2" x="33.30" y="453.50" font-size="24" style="fill:#5f6368" textLength="60.06" lengthAdjust="spacingAndGlyphs">2,940</text>
  <text id="y3" x="33.30" y="543.10" font-size="24" style="fill:#5f6368" textLength="60.06" lengthAdjust="spacingAndGlyphs">2,920</text>
  <text id="y4" x="33.30" y="632.60" font-size="24" style="fill:#5f6368" textLength="60.06" lengthAdjust="spacingAndGlyphs">2,900</text>
  <text id="y5" x="33.30" y="722.20" font-size="24" style="fill:#5f6368" textLength="60.06" lengthAdjust="spacingAndGlyphs">2,880</text>
  <text id="y6" x="33.30" y="811.90" font-size="24" style="fill:#5f6368" textLength="60.06" lengthAdjust="spacingAndGlyphs">2,860</text>
  <text id="x1" x="171.50" y="848.20" font-size="24" style="fill:#5f6368" textLength="99.41" lengthAdjust="spacingAndGlyphs">10:00 AM</text>
  <text id="x2" x="390.50" y="848.20" font-size="24" style="fill:#5f6368" textLength="99.22" lengthAdjust="spacingAndGlyphs">11:00 AM</text>
  <text id="x3" x="608.90" y="848.20" font-size="24" style="fill:#5f6368" textLength="99.33" lengthAdjust="spacingAndGlyphs">12:00 PM</text>
  <text id="x4" x="834.40" y="848.20" font-size="24" style="fill:#5f6368" textLength="85.39" lengthAdjust="spacingAndGlyphs">1:00 PM</text>
  <text id="x5" x="1052.40" y="848.20" font-size="24" style="fill:#5f6368" textLength="86.19" lengthAdjust="spacingAndGlyphs">2:00 PM</text>
  <text id="x6" x="1271.00" y="848.20" font-size="24" style="fill:#5f6368" textLength="86.39" lengthAdjust="spacingAndGlyphs">3:00 PM</text>
  <text id="lunch" x="640.00" y="525.00" font-size="27" style="fill:#5f6368" textLength="145.31" lengthAdjust="spacingAndGlyphs">Lunch break</text>
  <text id="prev" x="1192.00" y="744.90" font-size="26" style="fill:#202124" textLength="119.72" lengthAdjust="spacingAndGlyphs">Prev close</text>
  <text id="prevn" x="1193.00" y="774.60" font-size="24.5" style="fill:#202124" textLength="98.42" lengthAdjust="spacingAndGlyphs">2,863.13</text>
  </g>
</svg>
</body>
</html>
